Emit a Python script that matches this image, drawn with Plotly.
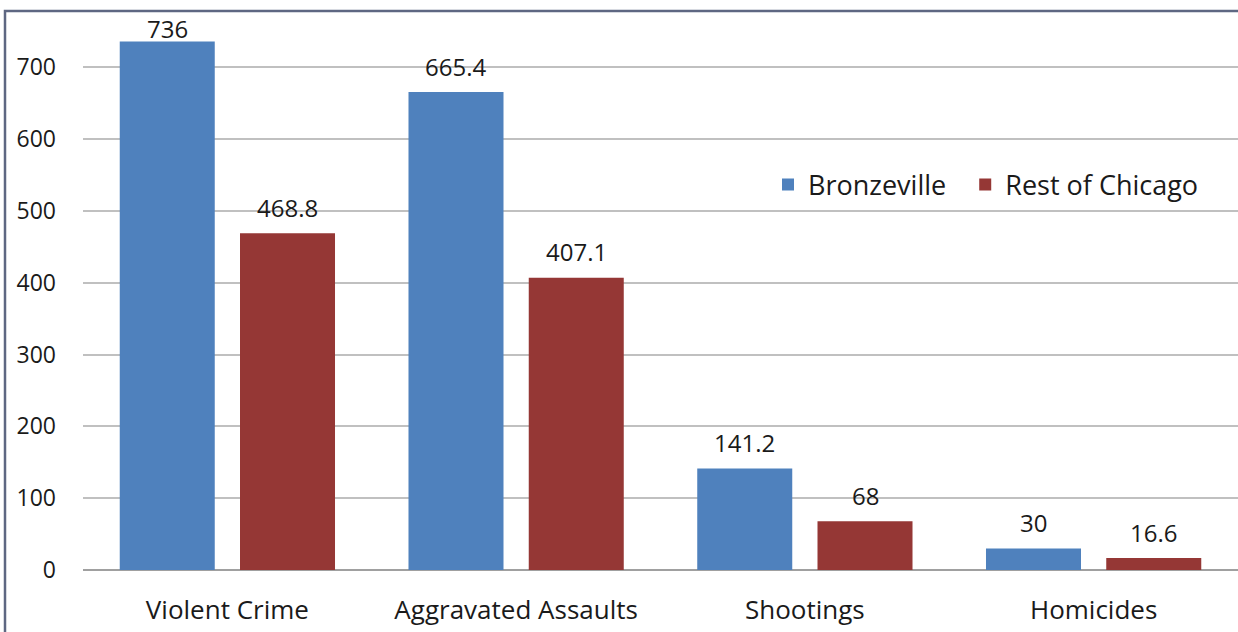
import plotly.graph_objects as go

categories = ["Violent Crime", "Aggravated Assaults", "Shootings", "Homicides"]
bronzeville = [736, 665.4, 141.2, 30]
rest_of_chicago = [468.8, 407.1, 68, 16.6]
y_ticks = [0, 100, 200, 300, 400, 500, 600, 700]

W, H = 1238, 632
L, R, T, B = 83, 0, 17, 62
pw, ph = W - L - R, H - T - B
Y_MAX = 770
BARGAP, BARGROUPGAP = 0.167, 0.21

def px_x(p):
    return (p - L) / pw

def px_y(p):
    return (H - B - p) / ph

font_family = "Open Sans, DejaVu Sans, sans-serif"
txt_color = "#1a1a1a"

series = [
    ("Bronzeville", bronzeville, "#4F81BD"),
    ("Rest of Chicago", rest_of_chicago, "#953735"),
]

fig = go.Figure()
for i, (name, vals, color) in enumerate(series):
    # non-breaking spaces widen the gap between legend entries
    legend_name = name + ("\u00a0\u00a0" if i < len(series) - 1 else "")
    fig.add_trace(go.Bar(
        name=legend_name, x=categories, y=vals,
        marker=dict(color=color, line=dict(width=0)),
    ))

# value labels placed above each bar (offset within the group computed from layout gaps)
cat_px = pw / len(categories)
slot_px = cat_px * (1 - BARGAP) / len(series)
for i, (name, vals, color) in enumerate(series):
    xoff = (i - (len(series) - 1) / 2) * slot_px
    for c, v in zip(categories, vals):
        bar_top_px = T + ph * (1 - v / Y_MAX)
        yshift = min(26, bar_top_px - 28)
        fig.add_annotation(
            x=c, y=v, xref="x", yref="y", text=f"{v:g}",
            showarrow=False, xshift=xoff, yshift=yshift, yanchor="middle",
            font=dict(size=24, color=txt_color, family=font_family),
        )

fig.update_layout(
    width=W, height=H,
    margin=dict(l=L, r=R, t=T, b=B, pad=0),
    paper_bgcolor="white", plot_bgcolor="white",
    barmode="group", bargap=BARGAP, bargroupgap=BARGROUPGAP,
    font=dict(family=font_family, color=txt_color, size=20),
    showlegend=True,
    legend=dict(
        orientation="h", x=px_x(768), y=px_y(185), xanchor="left", yanchor="middle",
        font=dict(size=27, color=txt_color), bgcolor="rgba(0,0,0,0)",
        traceorder="normal",
    ),
    xaxis=dict(
        showgrid=False, showline=False, ticks="",
        tickfont=dict(size=26, color=txt_color),
        ticklabelstandoff=22,
    ),
    yaxis=dict(
        range=[0, Y_MAX], tickvals=y_ticks, showgrid=True,
        gridcolor="#C0C0C0", gridwidth=1.5,
        zeroline=True, zerolinecolor="#A0A0A0", zerolinewidth=2,
        showline=False, ticks="", ticklabelstandoff=26,
        tickfont=dict(size=23, color=txt_color),
    ),
    hovermode=False,
)

# outer frame (left and top edges visible in the crop)
fig.add_shape(
    type="path", xref="paper", yref="paper",
    path=f"M {px_x(5)},{px_y(640)} L {px_x(5)},{px_y(11)} L {px_x(1245)},{px_y(11)}",
    line=dict(color="#5E6782", width=2.5),
)

fig.write_html(
    "out.html",
    config={"displayModeBar": False},
    post_script="document.body.style.margin='0';document.body.style.overflow='hidden';",
)
